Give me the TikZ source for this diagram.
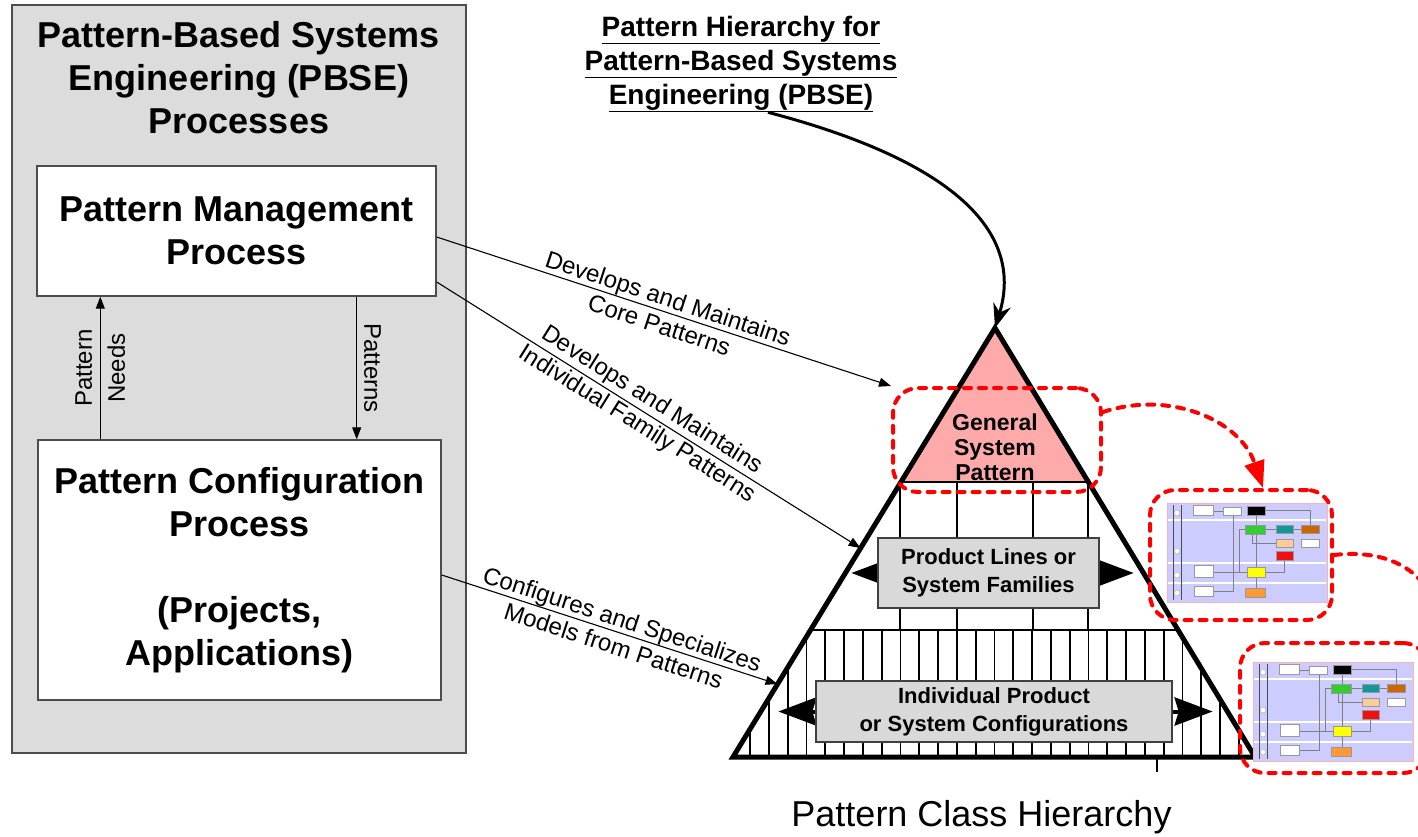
\documentclass[tikz,border=0pt]{standalone}
\usepackage{fontspec}
\setmainfont{Liberation Sans}
\usetikzlibrary{arrows.meta,calc,positioning}

\definecolor{panelgray}{RGB}{220,220,220}
\definecolor{boxgray}{RGB}{217,217,217}
\definecolor{toppink}{RGB}{255,170,170}
\definecolor{lanecol}{RGB}{204,204,255}
\definecolor{tgreen}{RGB}{51,204,51}
\definecolor{tteal}{RGB}{17,153,153}
\definecolor{tbrown}{RGB}{204,102,0}
\definecolor{tpeach}{RGB}{255,204,153}
\definecolor{tred}{RGB}{238,17,17}
\definecolor{tyellow}{RGB}{255,255,0}
\definecolor{torange}{RGB}{255,153,51}

\begin{document}
\begin{tikzpicture}[x=1pt, y=-1pt,
  every node/.style = {align=center, inner sep=0pt},
  proc/.style = {draw=black!70, fill=white, line width=1.4pt,
    font={\fontsize{36}{43}\selectfont\bfseries}},
  flow/.style = {line width=1.1pt, -{Triangle[length=12pt,width=9pt]}},
  lbl/.style = {font={\fontsize{24}{28}\selectfont}},
  tierbox/.style = {draw=black!75, fill=boxgray, line width=1.3pt,
    font={\fontsize{22}{28}\selectfont\bfseries}},
  wedge/.style = {line width=4pt,
    {Stealth[length=38pt,width=28pt,inset=4pt]}-{Stealth[length=38pt,width=28pt,inset=4pt]}},
  redframe/.style = {draw=red, line width=4pt, line cap=round,
    dash pattern=on 7pt off 8pt, rounded corners=25pt},
  redlink/.style = {red, line width=4pt, line cap=round,
    dash pattern=on 7pt off 8pt, -{Triangle[length=27pt,width=20pt]}},
  thumb/.pic = {
    \fill[lanecol] (0,0) rectangle (160,99);
    \draw[red!30, line width=.6pt] (0,0) rectangle (160,99);
    \foreach \v in {17,60,80} \draw[white, line width=2pt] (1,\v) -- (159,\v);
    \draw[black!70, line width=.8pt] (6,2) -- (6,97) (14,2) -- (14,97);
    \draw[black!50, line width=.6pt] (89,12) -- (89,85) (98,7) -- (143,7) -- (143,22)
      (98,26) -- (109,26) (126,26) -- (134,26) (85,31) -- (85,40) -- (109,40)
      (117,57) -- (117,69) -- (98,69) (46,69) -- (80,69) (72,26) -- (78,26)
      (72,26) -- (72,69) (46,88) -- (66,88) -- (66,8) -- (46,8);
    \foreach \v in {10,48,72,90}
      \filldraw[fill=white, draw=black!40, line width=.3pt] (10,\v) circle[radius=3pt];
    \foreach \xa/\ya/\xb/\yb/\fc in {26/2/46/12/white, 56/4/74/12/white, 80/3/98/12/black,
        78/22/98/31/tgreen, 109/22/126/30/tteal, 134/22/152/30/tbrown,
        109/36/126/44/tpeach, 134/36/152/44/white, 109/48/126/57/tred,
        27/62/46/74/white, 80/64/98/74/tyellow, 27/83/46/93/white, 78/85/98/94/torange}
      \filldraw[fill=\fc, draw=black!40, line width=.4pt] (\xa,\ya) rectangle (\xb,\yb);
  }]
  \useasboundingbox (0,0) rectangle (1418,836);

  \node[draw=black!70, fill=panelgray, line width=1.5pt,
    minimum width=454pt, minimum height=748pt] (pbse) at (239,379) {};
  \node[font={\fontsize{36}{43}\selectfont\bfseries}] (pbsetitle) at (239,78)
    {Pattern-Based Systems\\Engineering (PBSE)\\Processes};
  \node[proc, minimum width=399pt, minimum height=130pt] (mgmt) at (236.5,231)
    {Pattern Management\\Process};
  \node[proc, minimum width=403pt, minimum height=260pt] (config) at (239.5,570)
    {Pattern Configuration\\Process\\[43pt](Projects,\\Applications)};
  \draw[flow] ([xshift=63pt]config.north west) -- ([xshift=64pt]mgmt.south west)
    node[midway, rotate=90, font={\fontsize{24}{33}\selectfont}] {Pattern\\Needs};
  \draw[flow] ([xshift=-80pt]mgmt.south east) -- ([xshift=-85pt]config.north east)
    node[midway, lbl, rotate=-90, anchor=south, inner sep=7pt] {Patterns};

  \node[font={\fontsize{28}{34}\selectfont\bfseries}] (hiertitle) at (741,64)
    {\underline{Pattern Hierarchy for}\\\underline{Pattern-Based Systems}\\\underline{Engineering (PBSE)}};

  \coordinate (apex) at (995,328);
  \coordinate (bl) at (733,757);
  \coordinate (br) at (1255,757);
  \coordinate (famin) at ($(apex)!.513!(bl)$);
  \coordinate (cfgin) at ($(apex)!.83!(bl)$);
  \begin{scope}[line width=1.8pt]
    \clip (apex) -- (bl) -- (br) -- cycle;
    \fill[toppink] (700,300) rectangle (1300,482);
    \draw (700,482) -- (1300,482) (700,630) -- (1300,630);
    \foreach \x in {900,957,1033,1088} \draw (\x,482) -- (\x,630);
    \foreach \k in {0,...,26} \draw (750+18.8*\k,630) -- (750+18.8*\k,757);
  \end{scope}
  \draw[line width=5pt] (apex) -- (bl) -- (br) -- cycle;
  \draw[line width=1.5pt] (1157,757) -- (1157,772);

  \node[font={\fontsize{23}{25}\selectfont\bfseries}] (gsp) at (995,447)
    {General\\System\\Pattern};
  \node[tierbox, minimum width=221pt, minimum height=70pt] (families) at (988.5,573) {};
  \node[tierbox, minimum width=356pt, minimum height=61pt] (configs) at (994,711.5) {};
  \draw[wedge] ([xshift=-26pt]families.west) -- ([xshift=34pt]families.east);
  \draw[wedge] ([xshift=-37pt]configs.west) -- ([xshift=40pt]configs.east);
  \node[tierbox, minimum width=221pt, minimum height=70pt] at (families)
    {Product Lines or\\System Families};
  \node[tierbox, minimum width=356pt, minimum height=61pt] at (configs)
    {Individual Product\\or System Configurations};
  \node[font={\fontsize{36}{40}\selectfont}, anchor=base] (classtitle) at (981.5,826)
    {Pattern Class Hierarchy};

  \draw[line width=3pt, -{Stealth[length=24pt,width=18pt]}] ([xshift=27pt]hiertitle.south)
    .. controls (950,160) and (1025,230) .. (apex);

  \node[redframe, minimum width=208pt, minimum height=104pt] (gspframe) at (997,440) {};
  \pic at (1167,503) {thumb};
  \pic at (1253,662) {thumb};
  \node[redframe, minimum width=182pt, minimum height=130pt] (frameA) at (1241,555) {};
  \node[redframe, minimum width=188pt, minimum height=130pt] (frameB) at (1334,708) {};
  \draw[redlink] ([yshift=28pt]gspframe.east) .. controls (1170,390) and (1240,420)
    .. ([xshift=22pt]frameA.north);
  \draw[redlink] (frameA.east) .. controls (1410,546) and (1445,595)
    .. ([xshift=-6pt,yshift=-16pt]frameB.north east);

  \draw[flow] ([yshift=-6pt]mgmt.east) -- (gspframe.north west)
    node[midway, sloped, lbl] {Develops and Maintains\\Core Patterns};
  \draw[flow] ([yshift=-51pt]mgmt.east) -- (famin)
    node[pos=.49, sloped, lbl] {Develops and Maintains\\Individual Family Patterns};
  \draw[flow] ([yshift=-5pt]config.east) -- (cfgin)
    node[pos=.525, sloped, lbl] {Configures and Specializes\\Models from Patterns};
\end{tikzpicture}
\end{document}
